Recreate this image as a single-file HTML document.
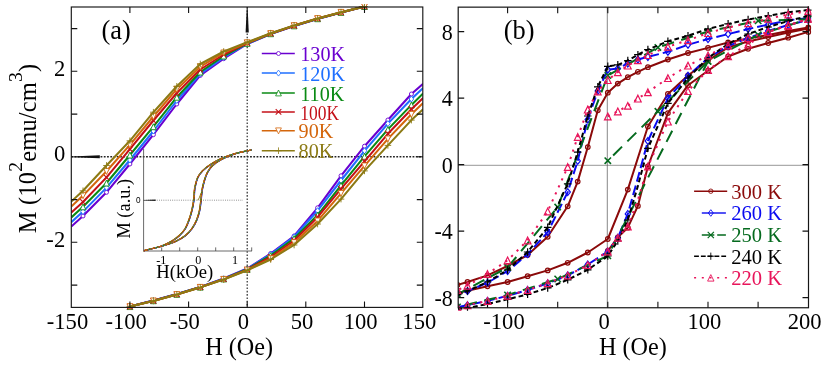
<!DOCTYPE html>
<html><head><meta charset="utf-8"><title>Hysteresis loops</title>
<style>html,body{margin:0;padding:0;background:#fff;}body{width:830px;height:365px;overflow:hidden;}svg{display:block;}text{font-family:"Liberation Serif",serif;fill:#000;}</style>
</head><body>
<svg width="830" height="365" viewBox="0 0 830 365" >
<rect x="0" y="0" width="830" height="365" fill="#fff"/>
<defs>
<filter id="noaa" filterUnits="userSpaceOnUse" x="0" y="0" width="830" height="365" color-interpolation-filters="sRGB"><feOffset dx="0" dy="0"/></filter>
<clipPath id="ca"><rect x="71.3" y="4.0" width="351.5" height="306.4"/></clipPath>
<clipPath id="cb"><rect x="458.2" y="4.15" width="353.3" height="306.55"/></clipPath>
</defs>
<g filter="url(#noaa)">
<g id="panelA">
<path d="M71.3 156.8L422.8 156.8" stroke="#222" stroke-width="1.6" stroke-dasharray="1.8 1.45" fill="none"/>
<path d="M247.2 7.0L247.2 307.4" stroke="#222" stroke-width="1.15" stroke-dasharray="1.6 1.7" fill="none"/>
<path d="M71.3 156.4L99.8 155.3L99.8 158.3L71.3 157.20000000000002Z" fill="#111"/>
<path d="M246.79999999999998 7.0L245.6 32.5L248.79999999999998 32.5L247.6 7.0Z" fill="#111"/>
<path d="M143.6 148.8L143.6 251.0L252.0 251.0" stroke="#444" stroke-width="0.8" fill="none"/>
<path d="M161.7 251.0L161.7 247.4" stroke="#444" stroke-width="0.8"/>
<path d="M179.7 251.0L179.7 247.4" stroke="#444" stroke-width="0.8"/>
<path d="M197.7 251.0L197.7 247.4" stroke="#444" stroke-width="0.8"/>
<path d="M215.7 251.0L215.7 247.4" stroke="#444" stroke-width="0.8"/>
<path d="M233.7 251.0L233.7 247.4" stroke="#444" stroke-width="0.8"/>
<path d="M251.7 251.0L251.7 247.4" stroke="#444" stroke-width="0.8"/>
<path d="M143.6 200.2L243 200.2" stroke="#555" stroke-width="0.7" stroke-dasharray="0.9 1.3" fill="none"/>
<path d="M143.6 199.89999999999998L155.6 199.5L155.6 200.89999999999998L143.6 200.5Z" fill="#222"/>
<path d="M251.9 150.0C249.2 150.6 240.6 152.1 235.6 153.5C230.6 154.9 226.3 156.4 222.1 158.3C217.9 160.2 213.7 162.6 210.5 164.7C207.3 166.8 204.9 168.7 202.8 170.8C200.7 173.0 199.3 174.7 198.0 177.6C196.7 180.5 195.8 184.4 195.1 188.2C194.5 191.9 194.6 196.4 194.1 200.1C193.6 203.8 193.0 207.1 192.2 210.4C191.4 213.7 190.4 216.9 189.3 220.0C188.2 223.1 187.1 226.1 185.5 228.7C183.9 231.3 182.0 233.4 179.7 235.5C177.5 237.6 175.0 239.4 172.0 241.2C169.0 242.9 166.6 244.4 161.9 246.0C157.2 247.6 146.9 249.9 143.9 250.7" fill="none" stroke="#6a00d0" stroke-width="1.1"/>
<path d="M143.9 250.7C146.9 250.0 156.6 247.8 161.9 246.3C167.2 244.8 171.9 243.3 175.8 241.5C179.7 239.7 182.8 237.8 185.5 235.7C188.2 233.6 190.3 231.3 192.2 228.7C194.1 226.1 195.7 223.1 197.0 220.0C198.3 216.9 199.2 213.7 199.9 210.4C200.6 207.1 200.9 203.5 201.3 200.1C201.7 196.7 201.8 193.4 202.4 190.1C203.0 186.8 203.8 183.4 204.7 180.5C205.6 177.6 206.3 175.2 207.6 172.8C208.9 170.4 210.0 168.2 212.4 166.0C214.8 163.8 218.2 161.3 222.1 159.3C226.0 157.3 230.6 155.4 235.6 153.8C240.6 152.2 249.2 150.6 251.9 150.0" fill="none" stroke="#6a00d0" stroke-width="1.1"/>
<path d="M251.8 150.0C249.1 150.6 240.4 152.1 235.5 153.5C230.5 154.9 226.2 156.4 222.0 158.3C217.8 160.2 213.6 162.6 210.4 164.7C207.2 166.8 204.8 168.7 202.7 170.8C200.6 173.0 199.2 174.7 197.9 177.6C196.6 180.5 195.6 184.4 195.0 188.2C194.3 191.9 194.5 196.4 194.0 200.1C193.5 203.8 192.9 207.1 192.1 210.4C191.3 213.7 190.3 216.9 189.2 220.0C188.1 223.1 187.0 226.1 185.4 228.7C183.8 231.3 181.8 233.4 179.6 235.5C177.3 237.6 174.8 239.4 171.9 241.2C168.9 242.9 166.5 244.4 161.8 246.0C157.1 247.6 146.8 249.9 143.8 250.7" fill="none" stroke="#1f6fff" stroke-width="1.1"/>
<path d="M143.8 250.7C146.8 250.0 156.5 247.8 161.8 246.3C167.1 244.8 171.7 243.3 175.7 241.5C179.6 239.7 182.6 237.8 185.4 235.7C188.1 233.6 190.2 231.3 192.1 228.7C194.0 226.1 195.6 223.1 196.9 220.0C198.2 216.9 199.1 213.7 199.8 210.4C200.5 207.1 200.8 203.5 201.2 200.1C201.6 196.7 201.7 193.4 202.3 190.1C202.8 186.8 203.7 183.4 204.6 180.5C205.4 177.6 206.2 175.2 207.5 172.8C208.8 170.4 209.9 168.2 212.3 166.0C214.7 163.8 218.1 161.3 222.0 159.3C225.8 157.3 230.5 155.4 235.5 153.8C240.4 152.2 249.1 150.6 251.8 150.0" fill="none" stroke="#1f6fff" stroke-width="1.1"/>
<path d="M251.7 150.0C248.9 150.6 240.3 152.1 235.4 153.5C230.4 154.9 226.0 156.4 221.9 158.3C217.7 160.2 213.5 162.6 210.3 164.7C207.0 166.8 204.6 168.7 202.6 170.8C200.5 173.0 199.0 174.7 197.8 177.6C196.5 180.5 195.5 184.4 194.9 188.2C194.2 191.9 194.3 196.4 193.9 200.1C193.4 203.8 192.8 207.1 192.0 210.4C191.2 213.7 190.2 216.9 189.1 220.0C187.9 223.1 186.9 226.1 185.3 228.7C183.7 231.3 181.7 233.4 179.5 235.5C177.2 237.6 174.7 239.4 171.8 241.2C168.8 242.9 166.3 244.4 161.7 246.0C157.0 247.6 146.7 249.9 143.7 250.7" fill="none" stroke="#0a8a14" stroke-width="1.1"/>
<path d="M143.7 250.7C146.7 250.0 156.3 247.8 161.7 246.3C167.0 244.8 171.6 243.3 175.6 241.5C179.5 239.7 182.5 237.8 185.3 235.7C188.0 233.6 190.0 231.3 192.0 228.7C193.9 226.1 195.5 223.1 196.8 220.0C198.0 216.9 198.9 213.7 199.7 210.4C200.4 207.1 200.6 203.5 201.1 200.1C201.5 196.7 201.6 193.4 202.2 190.1C202.7 186.8 203.6 183.4 204.5 180.5C205.3 177.6 206.1 175.2 207.4 172.8C208.6 170.4 209.7 168.2 212.2 166.0C214.6 163.8 218.0 161.3 221.9 159.3C225.7 157.3 230.4 155.4 235.4 153.8C240.3 152.2 248.9 150.6 251.7 150.0" fill="none" stroke="#0a8a14" stroke-width="1.1"/>
<path d="M251.5 150.0C248.8 150.6 240.2 152.1 235.2 153.5C230.3 154.9 225.9 156.4 221.7 158.3C217.6 160.2 213.4 162.6 210.1 164.7C206.9 166.8 204.5 168.7 202.4 170.8C200.4 173.0 198.9 174.7 197.6 177.6C196.4 180.5 195.4 184.4 194.7 188.2C194.1 191.9 194.2 196.4 193.7 200.1C193.3 203.8 192.6 207.1 191.8 210.4C191.0 213.7 190.1 216.9 188.9 220.0C187.8 223.1 186.7 226.1 185.1 228.7C183.5 231.3 181.6 233.4 179.3 235.5C177.1 237.6 174.6 239.4 171.6 241.2C168.7 242.9 166.2 244.4 161.5 246.0C156.9 247.6 146.5 249.9 143.5 250.7" fill="none" stroke="#c41018" stroke-width="1.1"/>
<path d="M143.5 250.7C146.5 250.0 156.2 247.8 161.5 246.3C166.9 244.8 171.5 243.3 175.4 241.5C179.4 239.7 182.4 237.8 185.1 235.7C187.9 233.6 189.9 231.3 191.8 228.7C193.8 226.1 195.4 223.1 196.6 220.0C197.9 216.9 198.8 213.7 199.5 210.4C200.3 207.1 200.5 203.5 200.9 200.1C201.4 196.7 201.5 193.4 202.0 190.1C202.6 186.8 203.5 183.4 204.3 180.5C205.2 177.6 206.0 175.2 207.2 172.8C208.5 170.4 209.6 168.2 212.0 166.0C214.5 163.8 217.9 161.3 221.7 159.3C225.6 157.3 230.3 155.4 235.2 153.8C240.2 152.2 248.8 150.6 251.5 150.0" fill="none" stroke="#c41018" stroke-width="1.1"/>
<path d="M251.4 150.0C248.7 150.6 240.1 152.1 235.1 153.5C230.2 154.9 225.8 156.4 221.6 158.3C217.4 160.2 213.2 162.6 210.0 164.7C206.8 166.8 204.4 168.7 202.3 170.8C200.2 173.0 198.8 174.7 197.5 177.6C196.2 180.5 195.3 184.4 194.6 188.2C194.0 191.9 194.1 196.4 193.6 200.1C193.1 203.8 192.5 207.1 191.7 210.4C190.9 213.7 189.9 216.9 188.8 220.0C187.7 223.1 186.6 226.1 185.0 228.7C183.4 231.3 181.5 233.4 179.2 235.5C177.0 237.6 174.5 239.4 171.5 241.2C168.6 242.9 166.1 244.4 161.4 246.0C156.7 247.6 146.4 249.9 143.4 250.7" fill="none" stroke="#d4660c" stroke-width="1.1"/>
<path d="M143.4 250.7C146.4 250.0 156.1 247.8 161.4 246.3C166.7 244.8 171.4 243.3 175.3 241.5C179.3 239.7 182.3 237.8 185.0 235.7C187.8 233.6 189.8 231.3 191.7 228.7C193.6 226.1 195.2 223.1 196.5 220.0C197.8 216.9 198.7 213.7 199.4 210.4C200.1 207.1 200.4 203.5 200.8 200.1C201.2 196.7 201.4 193.4 201.9 190.1C202.5 186.8 203.4 183.4 204.2 180.5C205.1 177.6 205.8 175.2 207.1 172.8C208.4 170.4 209.5 168.2 211.9 166.0C214.3 163.8 217.8 161.3 221.6 159.3C225.5 157.3 230.2 155.4 235.1 153.8C240.1 152.2 248.7 150.6 251.4 150.0" fill="none" stroke="#d4660c" stroke-width="1.1"/>
<path d="M251.3 150.0C248.6 150.6 240.0 152.1 235.0 153.5C230.0 154.9 225.7 156.4 221.5 158.3C217.3 160.2 213.1 162.6 209.9 164.7C206.7 166.8 204.3 168.7 202.2 170.8C200.1 173.0 198.7 174.7 197.4 177.6C196.1 180.5 195.2 184.4 194.5 188.2C193.8 191.9 194.0 196.4 193.5 200.1C193.0 203.8 192.4 207.1 191.6 210.4C190.8 213.7 189.8 216.9 188.7 220.0C187.6 223.1 186.5 226.1 184.9 228.7C183.3 231.3 181.3 233.4 179.1 235.5C176.8 237.6 174.4 239.4 171.4 241.2C168.4 242.9 166.0 244.4 161.3 246.0C156.6 247.6 146.3 249.9 143.3 250.7" fill="none" stroke="#8c7a14" stroke-width="1.1"/>
<path d="M143.3 250.7C146.3 250.0 156.0 247.8 161.3 246.3C166.6 244.8 171.3 243.3 175.2 241.5C179.1 239.7 182.2 237.8 184.9 235.7C187.6 233.6 189.7 231.3 191.6 228.7C193.5 226.1 195.1 223.1 196.4 220.0C197.7 216.9 198.6 213.7 199.3 210.4C200.0 207.1 200.3 203.5 200.7 200.1C201.1 196.7 201.2 193.4 201.8 190.1C202.4 186.8 203.2 183.4 204.1 180.5C205.0 177.6 205.7 175.2 207.0 172.8C208.3 170.4 209.4 168.2 211.8 166.0C214.2 163.8 217.6 161.3 221.5 159.3C225.4 157.3 230.0 155.4 235.0 153.8C240.0 152.2 248.6 150.6 251.3 150.0" fill="none" stroke="#8c7a14" stroke-width="1.1"/>
<path d="M251.6 150.0C248.9 150.6 240.3 152.1 235.3 153.5C230.3 154.9 226.0 156.4 221.8 158.3C217.6 160.2 213.4 162.6 210.2 164.7C207.0 166.8 204.6 168.7 202.5 170.8C200.4 173.0 199.0 174.7 197.7 177.6C196.4 180.5 195.5 184.4 194.8 188.2C194.2 191.9 194.3 196.4 193.8 200.1C193.3 203.8 192.7 207.1 191.9 210.4C191.1 213.7 190.1 216.9 189.0 220.0C187.9 223.1 186.8 226.1 185.2 228.7C183.6 231.3 181.7 233.4 179.4 235.5C177.2 237.6 174.7 239.4 171.7 241.2C168.7 242.9 166.3 244.4 161.6 246.0C156.9 247.6 146.6 249.9 143.6 250.7" fill="none" stroke="#1f6fff" stroke-width="0.9" stroke-dasharray="0.9 6.3" stroke-dashoffset="0.0"/>
<path d="M143.6 250.7C146.6 250.0 156.3 247.8 161.6 246.3C166.9 244.8 171.6 243.3 175.5 241.5C179.4 239.7 182.5 237.8 185.2 235.7C187.9 233.6 190.0 231.3 191.9 228.7C193.8 226.1 195.4 223.1 196.7 220.0C198.0 216.9 198.9 213.7 199.6 210.4C200.3 207.1 200.6 203.5 201.0 200.1C201.4 196.7 201.5 193.4 202.1 190.1C202.7 186.8 203.5 183.4 204.4 180.5C205.3 177.6 206.0 175.2 207.3 172.8C208.6 170.4 209.7 168.2 212.1 166.0C214.5 163.8 217.9 161.3 221.8 159.3C225.7 157.3 230.3 155.4 235.3 153.8C240.3 152.2 248.9 150.6 251.6 150.0" fill="none" stroke="#1f6fff" stroke-width="0.9" stroke-dasharray="0.9 6.3" stroke-dashoffset="0.0"/>
<path d="M251.6 150.0C248.9 150.6 240.3 152.1 235.3 153.5C230.3 154.9 226.0 156.4 221.8 158.3C217.6 160.2 213.4 162.6 210.2 164.7C207.0 166.8 204.6 168.7 202.5 170.8C200.4 173.0 199.0 174.7 197.7 177.6C196.4 180.5 195.5 184.4 194.8 188.2C194.2 191.9 194.3 196.4 193.8 200.1C193.3 203.8 192.7 207.1 191.9 210.4C191.1 213.7 190.1 216.9 189.0 220.0C187.9 223.1 186.8 226.1 185.2 228.7C183.6 231.3 181.7 233.4 179.4 235.5C177.2 237.6 174.7 239.4 171.7 241.2C168.7 242.9 166.3 244.4 161.6 246.0C156.9 247.6 146.6 249.9 143.6 250.7" fill="none" stroke="#0a8a14" stroke-width="0.9" stroke-dasharray="0.9 6.3" stroke-dashoffset="1.8"/>
<path d="M143.6 250.7C146.6 250.0 156.3 247.8 161.6 246.3C166.9 244.8 171.6 243.3 175.5 241.5C179.4 239.7 182.5 237.8 185.2 235.7C187.9 233.6 190.0 231.3 191.9 228.7C193.8 226.1 195.4 223.1 196.7 220.0C198.0 216.9 198.9 213.7 199.6 210.4C200.3 207.1 200.6 203.5 201.0 200.1C201.4 196.7 201.5 193.4 202.1 190.1C202.7 186.8 203.5 183.4 204.4 180.5C205.3 177.6 206.0 175.2 207.3 172.8C208.6 170.4 209.7 168.2 212.1 166.0C214.5 163.8 217.9 161.3 221.8 159.3C225.7 157.3 230.3 155.4 235.3 153.8C240.3 152.2 248.9 150.6 251.6 150.0" fill="none" stroke="#0a8a14" stroke-width="0.9" stroke-dasharray="0.9 6.3" stroke-dashoffset="1.8"/>
<path d="M251.6 150.0C248.9 150.6 240.3 152.1 235.3 153.5C230.3 154.9 226.0 156.4 221.8 158.3C217.6 160.2 213.4 162.6 210.2 164.7C207.0 166.8 204.6 168.7 202.5 170.8C200.4 173.0 199.0 174.7 197.7 177.6C196.4 180.5 195.5 184.4 194.8 188.2C194.2 191.9 194.3 196.4 193.8 200.1C193.3 203.8 192.7 207.1 191.9 210.4C191.1 213.7 190.1 216.9 189.0 220.0C187.9 223.1 186.8 226.1 185.2 228.7C183.6 231.3 181.7 233.4 179.4 235.5C177.2 237.6 174.7 239.4 171.7 241.2C168.7 242.9 166.3 244.4 161.6 246.0C156.9 247.6 146.6 249.9 143.6 250.7" fill="none" stroke="#c41018" stroke-width="0.9" stroke-dasharray="0.9 6.3" stroke-dashoffset="3.6"/>
<path d="M143.6 250.7C146.6 250.0 156.3 247.8 161.6 246.3C166.9 244.8 171.6 243.3 175.5 241.5C179.4 239.7 182.5 237.8 185.2 235.7C187.9 233.6 190.0 231.3 191.9 228.7C193.8 226.1 195.4 223.1 196.7 220.0C198.0 216.9 198.9 213.7 199.6 210.4C200.3 207.1 200.6 203.5 201.0 200.1C201.4 196.7 201.5 193.4 202.1 190.1C202.7 186.8 203.5 183.4 204.4 180.5C205.3 177.6 206.0 175.2 207.3 172.8C208.6 170.4 209.7 168.2 212.1 166.0C214.5 163.8 217.9 161.3 221.8 159.3C225.7 157.3 230.3 155.4 235.3 153.8C240.3 152.2 248.9 150.6 251.6 150.0" fill="none" stroke="#c41018" stroke-width="0.9" stroke-dasharray="0.9 6.3" stroke-dashoffset="3.6"/>
<path d="M251.6 150.0C248.9 150.6 240.3 152.1 235.3 153.5C230.3 154.9 226.0 156.4 221.8 158.3C217.6 160.2 213.4 162.6 210.2 164.7C207.0 166.8 204.6 168.7 202.5 170.8C200.4 173.0 199.0 174.7 197.7 177.6C196.4 180.5 195.5 184.4 194.8 188.2C194.2 191.9 194.3 196.4 193.8 200.1C193.3 203.8 192.7 207.1 191.9 210.4C191.1 213.7 190.1 216.9 189.0 220.0C187.9 223.1 186.8 226.1 185.2 228.7C183.6 231.3 181.7 233.4 179.4 235.5C177.2 237.6 174.7 239.4 171.7 241.2C168.7 242.9 166.3 244.4 161.6 246.0C156.9 247.6 146.6 249.9 143.6 250.7" fill="none" stroke="#d4660c" stroke-width="0.9" stroke-dasharray="0.9 6.3" stroke-dashoffset="5.4"/>
<path d="M143.6 250.7C146.6 250.0 156.3 247.8 161.6 246.3C166.9 244.8 171.6 243.3 175.5 241.5C179.4 239.7 182.5 237.8 185.2 235.7C187.9 233.6 190.0 231.3 191.9 228.7C193.8 226.1 195.4 223.1 196.7 220.0C198.0 216.9 198.9 213.7 199.6 210.4C200.3 207.1 200.6 203.5 201.0 200.1C201.4 196.7 201.5 193.4 202.1 190.1C202.7 186.8 203.5 183.4 204.4 180.5C205.3 177.6 206.0 175.2 207.3 172.8C208.6 170.4 209.7 168.2 212.1 166.0C214.5 163.8 217.9 161.3 221.8 159.3C225.7 157.3 230.3 155.4 235.3 153.8C240.3 152.2 248.9 150.6 251.6 150.0" fill="none" stroke="#d4660c" stroke-width="0.9" stroke-dasharray="0.9 6.3" stroke-dashoffset="5.4"/>
<path d="M197.7 200.2C199.2 198.7 199.89999999999998 196.2 200.89999999999998 193.2" fill="none" stroke="#8c7a14" stroke-width="1"/>
<text x="161.4" y="263.6" font-size="12.2" text-anchor="middle">-1</text>
<text x="198.2" y="263.6" font-size="12.2" text-anchor="middle">0</text>
<text x="235.0" y="263.6" font-size="12.2" text-anchor="middle">1</text>
<text x="156.3" y="278.2" font-size="18.6">H(kOe)</text>
<text transform="translate(130.2 238.6) rotate(-90) scale(1 1.08)" font-size="18.4">M (a.u.)</text>
<text x="138.4" y="203.0" font-size="8.2" text-anchor="middle" style="font-family:'Liberation Sans', sans-serif">0</text>
<g clip-path="url(#ca)">
<path d="M71.3 226.5L83.0 216.0L106.5 192.3L129.9 164.0L153.4 134.7L176.8 104.0L200.3 75.4L223.7 58.7L247.2 44.0L270.7 34.0L294.1 26.0L317.6 18.9L341.0 12.5L364.5 6.5" fill="none" stroke="#6a00d0" stroke-width="2.05" stroke-linejoin="round" />
<path d="M129.9 306.6L153.4 300.5L176.8 294.1L200.3 286.9L223.7 278.5L247.2 268.5L270.7 253.5L294.1 236.0L317.6 207.8L341.0 175.8L364.5 146.2L387.9 120.0L411.4 94.0L423.1 83.8" fill="none" stroke="#6a00d0" stroke-width="2.05" stroke-linejoin="round" />
<circle cx="83.0" cy="216.0" r="2.00" fill="#fff" stroke="#6a00d0" stroke-width="0.9"/>
<circle cx="106.5" cy="192.3" r="2.00" fill="#fff" stroke="#6a00d0" stroke-width="0.9"/>
<circle cx="129.9" cy="164.0" r="2.00" fill="#fff" stroke="#6a00d0" stroke-width="0.9"/>
<circle cx="153.4" cy="134.7" r="2.00" fill="#fff" stroke="#6a00d0" stroke-width="0.9"/>
<circle cx="176.8" cy="104.0" r="2.00" fill="#fff" stroke="#6a00d0" stroke-width="0.9"/>
<circle cx="200.3" cy="75.4" r="2.00" fill="#fff" stroke="#6a00d0" stroke-width="0.9"/>
<circle cx="223.7" cy="58.7" r="2.00" fill="#fff" stroke="#6a00d0" stroke-width="0.9"/>
<circle cx="247.2" cy="44.0" r="2.00" fill="#fff" stroke="#6a00d0" stroke-width="0.9"/>
<circle cx="270.7" cy="34.0" r="2.00" fill="#fff" stroke="#6a00d0" stroke-width="0.9"/>
<circle cx="294.1" cy="26.0" r="2.00" fill="#fff" stroke="#6a00d0" stroke-width="0.9"/>
<circle cx="317.6" cy="18.9" r="2.00" fill="#fff" stroke="#6a00d0" stroke-width="0.9"/>
<circle cx="341.0" cy="12.5" r="2.00" fill="#fff" stroke="#6a00d0" stroke-width="0.9"/>
<circle cx="364.5" cy="6.5" r="2.00" fill="#fff" stroke="#6a00d0" stroke-width="0.9"/>
<circle cx="129.9" cy="306.6" r="2.00" fill="#fff" stroke="#6a00d0" stroke-width="0.9"/>
<circle cx="153.4" cy="300.5" r="2.00" fill="#fff" stroke="#6a00d0" stroke-width="0.9"/>
<circle cx="176.8" cy="294.1" r="2.00" fill="#fff" stroke="#6a00d0" stroke-width="0.9"/>
<circle cx="200.3" cy="286.9" r="2.00" fill="#fff" stroke="#6a00d0" stroke-width="0.9"/>
<circle cx="223.7" cy="278.5" r="2.00" fill="#fff" stroke="#6a00d0" stroke-width="0.9"/>
<circle cx="247.2" cy="268.5" r="2.00" fill="#fff" stroke="#6a00d0" stroke-width="0.9"/>
<circle cx="270.7" cy="253.5" r="2.00" fill="#fff" stroke="#6a00d0" stroke-width="0.9"/>
<circle cx="294.1" cy="236.0" r="2.00" fill="#fff" stroke="#6a00d0" stroke-width="0.9"/>
<circle cx="317.6" cy="207.8" r="2.00" fill="#fff" stroke="#6a00d0" stroke-width="0.9"/>
<circle cx="341.0" cy="175.8" r="2.00" fill="#fff" stroke="#6a00d0" stroke-width="0.9"/>
<circle cx="364.5" cy="146.2" r="2.00" fill="#fff" stroke="#6a00d0" stroke-width="0.9"/>
<circle cx="387.9" cy="120.0" r="2.00" fill="#fff" stroke="#6a00d0" stroke-width="0.9"/>
<circle cx="411.4" cy="94.0" r="2.00" fill="#fff" stroke="#6a00d0" stroke-width="0.9"/>
<path d="M71.3 222.2L83.0 211.6L106.5 187.6L129.9 160.0L153.4 131.0L176.8 100.5L200.3 73.8L223.7 57.4L247.2 43.7L270.7 33.9L294.1 25.9L317.6 18.8L341.0 12.5L364.5 6.5" fill="none" stroke="#1f6fff" stroke-width="2.05" stroke-linejoin="round" />
<path d="M129.9 306.6L153.4 300.6L176.8 294.2L200.3 287.0L223.7 278.7L247.2 269.0L270.7 254.2L294.1 236.8L317.6 210.7L341.0 180.5L364.5 150.8L387.9 123.6L411.4 99.0L423.1 88.0" fill="none" stroke="#1f6fff" stroke-width="2.05" stroke-linejoin="round" />
<path d="M83.0 208.6L85.3 211.6L83.0 214.6L80.7 211.6Z" fill="#fff" stroke="#1f6fff" stroke-width="0.9"/>
<path d="M106.5 184.6L108.8 187.6L106.5 190.6L104.2 187.6Z" fill="#fff" stroke="#1f6fff" stroke-width="0.9"/>
<path d="M129.9 157.0L132.2 160.0L129.9 163.0L127.6 160.0Z" fill="#fff" stroke="#1f6fff" stroke-width="0.9"/>
<path d="M153.4 128.0L155.7 131.0L153.4 134.0L151.1 131.0Z" fill="#fff" stroke="#1f6fff" stroke-width="0.9"/>
<path d="M176.8 97.5L179.1 100.5L176.8 103.5L174.5 100.5Z" fill="#fff" stroke="#1f6fff" stroke-width="0.9"/>
<path d="M200.3 70.8L202.6 73.8L200.3 76.8L198.0 73.8Z" fill="#fff" stroke="#1f6fff" stroke-width="0.9"/>
<path d="M223.7 54.4L226.0 57.4L223.7 60.4L221.4 57.4Z" fill="#fff" stroke="#1f6fff" stroke-width="0.9"/>
<path d="M247.2 40.7L249.5 43.7L247.2 46.7L244.9 43.7Z" fill="#fff" stroke="#1f6fff" stroke-width="0.9"/>
<path d="M270.7 30.9L273.0 33.9L270.7 36.9L268.4 33.9Z" fill="#fff" stroke="#1f6fff" stroke-width="0.9"/>
<path d="M294.1 22.9L296.4 25.9L294.1 28.9L291.8 25.9Z" fill="#fff" stroke="#1f6fff" stroke-width="0.9"/>
<path d="M317.6 15.8L319.9 18.8L317.6 21.8L315.3 18.8Z" fill="#fff" stroke="#1f6fff" stroke-width="0.9"/>
<path d="M341.0 9.5L343.3 12.5L341.0 15.5L338.7 12.5Z" fill="#fff" stroke="#1f6fff" stroke-width="0.9"/>
<path d="M364.5 3.5L366.8 6.5L364.5 9.5L362.2 6.5Z" fill="#fff" stroke="#1f6fff" stroke-width="0.9"/>
<path d="M129.9 303.6L132.2 306.6L129.9 309.6L127.6 306.6Z" fill="#fff" stroke="#1f6fff" stroke-width="0.9"/>
<path d="M153.4 297.6L155.7 300.6L153.4 303.6L151.1 300.6Z" fill="#fff" stroke="#1f6fff" stroke-width="0.9"/>
<path d="M176.8 291.2L179.1 294.2L176.8 297.2L174.5 294.2Z" fill="#fff" stroke="#1f6fff" stroke-width="0.9"/>
<path d="M200.3 284.0L202.6 287.0L200.3 290.0L198.0 287.0Z" fill="#fff" stroke="#1f6fff" stroke-width="0.9"/>
<path d="M223.7 275.7L226.0 278.7L223.7 281.7L221.4 278.7Z" fill="#fff" stroke="#1f6fff" stroke-width="0.9"/>
<path d="M247.2 266.0L249.5 269.0L247.2 272.0L244.9 269.0Z" fill="#fff" stroke="#1f6fff" stroke-width="0.9"/>
<path d="M270.7 251.2L273.0 254.2L270.7 257.2L268.4 254.2Z" fill="#fff" stroke="#1f6fff" stroke-width="0.9"/>
<path d="M294.1 233.8L296.4 236.8L294.1 239.8L291.8 236.8Z" fill="#fff" stroke="#1f6fff" stroke-width="0.9"/>
<path d="M317.6 207.7L319.9 210.7L317.6 213.7L315.3 210.7Z" fill="#fff" stroke="#1f6fff" stroke-width="0.9"/>
<path d="M341.0 177.5L343.3 180.5L341.0 183.5L338.7 180.5Z" fill="#fff" stroke="#1f6fff" stroke-width="0.9"/>
<path d="M364.5 147.8L366.8 150.8L364.5 153.8L362.2 150.8Z" fill="#fff" stroke="#1f6fff" stroke-width="0.9"/>
<path d="M387.9 120.6L390.2 123.6L387.9 126.6L385.6 123.6Z" fill="#fff" stroke="#1f6fff" stroke-width="0.9"/>
<path d="M411.4 96.0L413.7 99.0L411.4 102.0L409.1 99.0Z" fill="#fff" stroke="#1f6fff" stroke-width="0.9"/>
<path d="M71.3 217.4L83.0 206.8L106.5 183.0L129.9 155.0L153.4 126.7L176.8 97.2L200.3 72.0L223.7 56.0L247.2 43.3L270.7 33.7L294.1 25.8L317.6 18.7L341.0 12.4L364.5 6.5" fill="none" stroke="#0a8a14" stroke-width="2.05" stroke-linejoin="round" />
<path d="M129.9 306.6L153.4 300.7L176.8 294.3L200.3 287.1L223.7 278.9L247.2 269.3L270.7 255.5L294.1 238.5L317.6 215.1L341.0 185.3L364.5 156.3L387.9 129.4L411.4 104.9L423.1 93.5" fill="none" stroke="#0a8a14" stroke-width="2.05" stroke-linejoin="round" />
<path d="M83.0 203.9L85.9 209.8L80.1 209.8Z" fill="#fff" stroke="#0a8a14" stroke-width="0.9"/>
<path d="M106.5 180.1L109.4 186.0L103.6 186.0Z" fill="#fff" stroke="#0a8a14" stroke-width="0.9"/>
<path d="M129.9 152.1L132.8 158.0L127.0 158.0Z" fill="#fff" stroke="#0a8a14" stroke-width="0.9"/>
<path d="M153.4 123.8L156.3 129.7L150.5 129.7Z" fill="#fff" stroke="#0a8a14" stroke-width="0.9"/>
<path d="M176.8 94.3L179.7 100.2L173.9 100.2Z" fill="#fff" stroke="#0a8a14" stroke-width="0.9"/>
<path d="M200.3 69.1L203.2 75.0L197.4 75.0Z" fill="#fff" stroke="#0a8a14" stroke-width="0.9"/>
<path d="M223.7 53.1L226.6 59.0L220.8 59.0Z" fill="#fff" stroke="#0a8a14" stroke-width="0.9"/>
<path d="M247.2 40.4L250.1 46.3L244.3 46.3Z" fill="#fff" stroke="#0a8a14" stroke-width="0.9"/>
<path d="M270.7 30.8L273.6 36.7L267.8 36.7Z" fill="#fff" stroke="#0a8a14" stroke-width="0.9"/>
<path d="M294.1 22.9L297.0 28.8L291.2 28.8Z" fill="#fff" stroke="#0a8a14" stroke-width="0.9"/>
<path d="M317.6 15.8L320.5 21.7L314.7 21.7Z" fill="#fff" stroke="#0a8a14" stroke-width="0.9"/>
<path d="M341.0 9.5L343.9 15.4L338.1 15.4Z" fill="#fff" stroke="#0a8a14" stroke-width="0.9"/>
<path d="M364.5 3.6L367.4 9.5L361.6 9.5Z" fill="#fff" stroke="#0a8a14" stroke-width="0.9"/>
<path d="M129.9 303.7L132.8 309.6L127.0 309.6Z" fill="#fff" stroke="#0a8a14" stroke-width="0.9"/>
<path d="M153.4 297.8L156.3 303.7L150.5 303.7Z" fill="#fff" stroke="#0a8a14" stroke-width="0.9"/>
<path d="M176.8 291.4L179.7 297.3L173.9 297.3Z" fill="#fff" stroke="#0a8a14" stroke-width="0.9"/>
<path d="M200.3 284.2L203.2 290.1L197.4 290.1Z" fill="#fff" stroke="#0a8a14" stroke-width="0.9"/>
<path d="M223.7 276.0L226.6 281.9L220.8 281.9Z" fill="#fff" stroke="#0a8a14" stroke-width="0.9"/>
<path d="M247.2 266.4L250.1 272.3L244.3 272.3Z" fill="#fff" stroke="#0a8a14" stroke-width="0.9"/>
<path d="M270.7 252.6L273.6 258.5L267.8 258.5Z" fill="#fff" stroke="#0a8a14" stroke-width="0.9"/>
<path d="M294.1 235.6L297.0 241.5L291.2 241.5Z" fill="#fff" stroke="#0a8a14" stroke-width="0.9"/>
<path d="M317.6 212.2L320.5 218.1L314.7 218.1Z" fill="#fff" stroke="#0a8a14" stroke-width="0.9"/>
<path d="M341.0 182.4L343.9 188.3L338.1 188.3Z" fill="#fff" stroke="#0a8a14" stroke-width="0.9"/>
<path d="M364.5 153.4L367.4 159.3L361.6 159.3Z" fill="#fff" stroke="#0a8a14" stroke-width="0.9"/>
<path d="M387.9 126.5L390.8 132.4L385.0 132.4Z" fill="#fff" stroke="#0a8a14" stroke-width="0.9"/>
<path d="M411.4 102.0L414.3 107.9L408.5 107.9Z" fill="#fff" stroke="#0a8a14" stroke-width="0.9"/>
<path d="M71.3 212.6L83.0 202.0L106.5 177.4L129.9 149.2L153.4 120.5L176.8 93.0L200.3 69.5L223.7 54.5L247.2 43.0L270.7 33.6L294.1 25.7L317.6 18.6L341.0 12.4L364.5 6.5" fill="none" stroke="#c41018" stroke-width="2.05" stroke-linejoin="round" />
<path d="M129.9 306.6L153.4 300.8L176.8 294.4L200.3 287.2L223.7 279.1L247.2 269.6L270.7 257.0L294.1 240.5L317.6 217.2L341.0 188.9L364.5 161.4L387.9 133.8L411.4 109.2L423.1 98.0" fill="none" stroke="#c41018" stroke-width="2.05" stroke-linejoin="round" />
<path d="M80.2 199.2L85.8 204.8M80.2 204.8L85.8 199.2" fill="none" stroke="#c41018" stroke-width="1.17"/>
<path d="M103.7 174.6L109.3 180.2M103.7 180.2L109.3 174.6" fill="none" stroke="#c41018" stroke-width="1.17"/>
<path d="M127.1 146.4L132.7 152.0M127.1 152.0L132.7 146.4" fill="none" stroke="#c41018" stroke-width="1.17"/>
<path d="M150.6 117.7L156.2 123.3M150.6 123.3L156.2 117.7" fill="none" stroke="#c41018" stroke-width="1.17"/>
<path d="M174.0 90.2L179.6 95.8M174.0 95.8L179.6 90.2" fill="none" stroke="#c41018" stroke-width="1.17"/>
<path d="M197.5 66.7L203.1 72.3M197.5 72.3L203.1 66.7" fill="none" stroke="#c41018" stroke-width="1.17"/>
<path d="M220.9 51.7L226.5 57.3M220.9 57.3L226.5 51.7" fill="none" stroke="#c41018" stroke-width="1.17"/>
<path d="M244.4 40.2L250.0 45.8M244.4 45.8L250.0 40.2" fill="none" stroke="#c41018" stroke-width="1.17"/>
<path d="M267.9 30.8L273.5 36.4M267.9 36.4L273.5 30.8" fill="none" stroke="#c41018" stroke-width="1.17"/>
<path d="M291.3 22.9L296.9 28.5M291.3 28.5L296.9 22.9" fill="none" stroke="#c41018" stroke-width="1.17"/>
<path d="M314.8 15.8L320.4 21.4M314.8 21.4L320.4 15.8" fill="none" stroke="#c41018" stroke-width="1.17"/>
<path d="M338.2 9.6L343.8 15.2M338.2 15.2L343.8 9.6" fill="none" stroke="#c41018" stroke-width="1.17"/>
<path d="M361.7 3.7L367.3 9.3M361.7 9.3L367.3 3.7" fill="none" stroke="#c41018" stroke-width="1.17"/>
<path d="M127.1 303.8L132.7 309.4M127.1 309.4L132.7 303.8" fill="none" stroke="#c41018" stroke-width="1.17"/>
<path d="M150.6 298.0L156.2 303.6M150.6 303.6L156.2 298.0" fill="none" stroke="#c41018" stroke-width="1.17"/>
<path d="M174.0 291.6L179.6 297.2M174.0 297.2L179.6 291.6" fill="none" stroke="#c41018" stroke-width="1.17"/>
<path d="M197.5 284.4L203.1 290.0M197.5 290.0L203.1 284.4" fill="none" stroke="#c41018" stroke-width="1.17"/>
<path d="M220.9 276.3L226.5 281.9M220.9 281.9L226.5 276.3" fill="none" stroke="#c41018" stroke-width="1.17"/>
<path d="M244.4 266.8L250.0 272.4M244.4 272.4L250.0 266.8" fill="none" stroke="#c41018" stroke-width="1.17"/>
<path d="M267.9 254.2L273.5 259.8M267.9 259.8L273.5 254.2" fill="none" stroke="#c41018" stroke-width="1.17"/>
<path d="M291.3 237.7L296.9 243.3M291.3 243.3L296.9 237.7" fill="none" stroke="#c41018" stroke-width="1.17"/>
<path d="M314.8 214.4L320.4 220.0M314.8 220.0L320.4 214.4" fill="none" stroke="#c41018" stroke-width="1.17"/>
<path d="M338.2 186.1L343.8 191.7M338.2 191.7L343.8 186.1" fill="none" stroke="#c41018" stroke-width="1.17"/>
<path d="M361.7 158.6L367.3 164.2M361.7 164.2L367.3 158.6" fill="none" stroke="#c41018" stroke-width="1.17"/>
<path d="M385.1 131.0L390.7 136.6M385.1 136.6L390.7 131.0" fill="none" stroke="#c41018" stroke-width="1.17"/>
<path d="M408.6 106.4L414.2 112.0M408.6 112.0L414.2 106.4" fill="none" stroke="#c41018" stroke-width="1.17"/>
<path d="M71.3 206.5L83.0 195.6L106.5 171.3L129.9 144.9L153.4 116.5L176.8 89.2L200.3 66.7L223.7 52.9L247.2 42.7L270.7 33.5L294.1 25.6L317.6 18.5L341.0 12.3L364.5 6.5" fill="none" stroke="#d4660c" stroke-width="2.05" stroke-linejoin="round" />
<path d="M129.9 306.6L153.4 300.9L176.8 294.5L200.3 287.3L223.7 279.3L247.2 270.0L270.7 258.6L294.1 242.6L317.6 220.9L341.0 193.3L364.5 165.8L387.9 138.9L411.4 114.3L423.1 103.0" fill="none" stroke="#d4660c" stroke-width="2.05" stroke-linejoin="round" />
<path d="M83.0 198.7L85.9 192.7L80.1 192.7Z" fill="#fff" stroke="#d4660c" stroke-width="0.9"/>
<path d="M106.5 174.4L109.4 168.4L103.6 168.4Z" fill="#fff" stroke="#d4660c" stroke-width="0.9"/>
<path d="M129.9 148.0L132.8 142.0L127.0 142.0Z" fill="#fff" stroke="#d4660c" stroke-width="0.9"/>
<path d="M153.4 119.6L156.3 113.6L150.5 113.6Z" fill="#fff" stroke="#d4660c" stroke-width="0.9"/>
<path d="M176.8 92.3L179.7 86.3L173.9 86.3Z" fill="#fff" stroke="#d4660c" stroke-width="0.9"/>
<path d="M200.3 69.8L203.2 63.8L197.4 63.8Z" fill="#fff" stroke="#d4660c" stroke-width="0.9"/>
<path d="M223.7 56.0L226.6 50.0L220.8 50.0Z" fill="#fff" stroke="#d4660c" stroke-width="0.9"/>
<path d="M247.2 45.8L250.1 39.8L244.3 39.8Z" fill="#fff" stroke="#d4660c" stroke-width="0.9"/>
<path d="M270.7 36.6L273.6 30.6L267.8 30.6Z" fill="#fff" stroke="#d4660c" stroke-width="0.9"/>
<path d="M294.1 28.7L297.0 22.7L291.2 22.7Z" fill="#fff" stroke="#d4660c" stroke-width="0.9"/>
<path d="M317.6 21.6L320.5 15.6L314.7 15.6Z" fill="#fff" stroke="#d4660c" stroke-width="0.9"/>
<path d="M341.0 15.4L343.9 9.4L338.1 9.4Z" fill="#fff" stroke="#d4660c" stroke-width="0.9"/>
<path d="M364.5 9.6L367.4 3.6L361.6 3.6Z" fill="#fff" stroke="#d4660c" stroke-width="0.9"/>
<path d="M129.9 309.7L132.8 303.7L127.0 303.7Z" fill="#fff" stroke="#d4660c" stroke-width="0.9"/>
<path d="M153.4 304.0L156.3 298.0L150.5 298.0Z" fill="#fff" stroke="#d4660c" stroke-width="0.9"/>
<path d="M176.8 297.6L179.7 291.6L173.9 291.6Z" fill="#fff" stroke="#d4660c" stroke-width="0.9"/>
<path d="M200.3 290.4L203.2 284.4L197.4 284.4Z" fill="#fff" stroke="#d4660c" stroke-width="0.9"/>
<path d="M223.7 282.4L226.6 276.4L220.8 276.4Z" fill="#fff" stroke="#d4660c" stroke-width="0.9"/>
<path d="M247.2 273.1L250.1 267.1L244.3 267.1Z" fill="#fff" stroke="#d4660c" stroke-width="0.9"/>
<path d="M270.7 261.7L273.6 255.7L267.8 255.7Z" fill="#fff" stroke="#d4660c" stroke-width="0.9"/>
<path d="M294.1 245.7L297.0 239.7L291.2 239.7Z" fill="#fff" stroke="#d4660c" stroke-width="0.9"/>
<path d="M317.6 224.0L320.5 218.0L314.7 218.0Z" fill="#fff" stroke="#d4660c" stroke-width="0.9"/>
<path d="M341.0 196.4L343.9 190.4L338.1 190.4Z" fill="#fff" stroke="#d4660c" stroke-width="0.9"/>
<path d="M364.5 168.9L367.4 162.9L361.6 162.9Z" fill="#fff" stroke="#d4660c" stroke-width="0.9"/>
<path d="M387.9 142.0L390.8 136.0L385.0 136.0Z" fill="#fff" stroke="#d4660c" stroke-width="0.9"/>
<path d="M411.4 117.4L414.3 111.4L408.5 111.4Z" fill="#fff" stroke="#d4660c" stroke-width="0.9"/>
<path d="M71.3 201.6L83.0 190.8L106.5 165.5L129.9 140.8L153.4 112.2L176.8 86.3L200.3 64.0L223.7 51.5L247.2 42.3L270.7 33.2L294.1 25.4L317.6 18.4L341.0 12.2L364.5 6.5" fill="none" stroke="#8c7a14" stroke-width="2.05" stroke-linejoin="round" />
<path d="M129.9 306.6L153.4 301.0L176.8 294.6L200.3 287.4L223.7 279.5L247.2 270.3L270.7 259.5L294.1 245.0L317.6 224.0L341.0 199.1L364.5 170.9L387.9 145.4L411.4 120.1L423.1 109.2" fill="none" stroke="#8c7a14" stroke-width="2.05" stroke-linejoin="round" />
<path d="M79.7 190.8L86.3 190.8M83.0 187.5L83.0 194.1" fill="none" stroke="#8c7a14" stroke-width="0.9"/>
<path d="M103.2 165.5L109.8 165.5M106.5 162.2L106.5 168.8" fill="none" stroke="#8c7a14" stroke-width="0.9"/>
<path d="M126.6 140.8L133.2 140.8M129.9 137.5L129.9 144.1" fill="none" stroke="#8c7a14" stroke-width="0.9"/>
<path d="M150.1 112.2L156.7 112.2M153.4 108.9L153.4 115.5" fill="none" stroke="#8c7a14" stroke-width="0.9"/>
<path d="M173.5 86.3L180.1 86.3M176.8 83.0L176.8 89.6" fill="none" stroke="#8c7a14" stroke-width="0.9"/>
<path d="M197.0 64.0L203.6 64.0M200.3 60.7L200.3 67.3" fill="none" stroke="#8c7a14" stroke-width="0.9"/>
<path d="M220.4 51.5L227.0 51.5M223.7 48.2L223.7 54.8" fill="none" stroke="#8c7a14" stroke-width="0.9"/>
<path d="M243.9 42.3L250.5 42.3M247.2 39.0L247.2 45.6" fill="none" stroke="#8c7a14" stroke-width="0.9"/>
<path d="M267.4 33.2L274.0 33.2M270.7 29.9L270.7 36.5" fill="none" stroke="#8c7a14" stroke-width="0.9"/>
<path d="M290.8 25.4L297.4 25.4M294.1 22.1L294.1 28.7" fill="none" stroke="#8c7a14" stroke-width="0.9"/>
<path d="M314.3 18.4L320.9 18.4M317.6 15.1L317.6 21.7" fill="none" stroke="#8c7a14" stroke-width="0.9"/>
<path d="M337.7 12.2L344.3 12.2M341.0 8.9L341.0 15.5" fill="none" stroke="#8c7a14" stroke-width="0.9"/>
<path d="M361.2 6.5L367.8 6.5M364.5 3.2L364.5 9.8" fill="none" stroke="#8c7a14" stroke-width="0.9"/>
<path d="M126.6 306.6L133.2 306.6M129.9 303.3L129.9 309.9" fill="none" stroke="#8c7a14" stroke-width="0.9"/>
<path d="M150.1 301.0L156.7 301.0M153.4 297.7L153.4 304.3" fill="none" stroke="#8c7a14" stroke-width="0.9"/>
<path d="M173.5 294.6L180.1 294.6M176.8 291.3L176.8 297.9" fill="none" stroke="#8c7a14" stroke-width="0.9"/>
<path d="M197.0 287.4L203.6 287.4M200.3 284.1L200.3 290.7" fill="none" stroke="#8c7a14" stroke-width="0.9"/>
<path d="M220.4 279.5L227.0 279.5M223.7 276.2L223.7 282.8" fill="none" stroke="#8c7a14" stroke-width="0.9"/>
<path d="M243.9 270.3L250.5 270.3M247.2 267.0L247.2 273.6" fill="none" stroke="#8c7a14" stroke-width="0.9"/>
<path d="M267.4 259.5L274.0 259.5M270.7 256.2L270.7 262.8" fill="none" stroke="#8c7a14" stroke-width="0.9"/>
<path d="M290.8 245.0L297.4 245.0M294.1 241.7L294.1 248.3" fill="none" stroke="#8c7a14" stroke-width="0.9"/>
<path d="M314.3 224.0L320.9 224.0M317.6 220.7L317.6 227.3" fill="none" stroke="#8c7a14" stroke-width="0.9"/>
<path d="M337.7 199.1L344.3 199.1M341.0 195.8L341.0 202.4" fill="none" stroke="#8c7a14" stroke-width="0.9"/>
<path d="M361.2 170.9L367.8 170.9M364.5 167.6L364.5 174.2" fill="none" stroke="#8c7a14" stroke-width="0.9"/>
<path d="M384.6 145.4L391.2 145.4M387.9 142.1L387.9 148.7" fill="none" stroke="#8c7a14" stroke-width="0.9"/>
<path d="M408.1 120.1L414.7 120.1M411.4 116.8L411.4 123.4" fill="none" stroke="#8c7a14" stroke-width="0.9"/>
</g>
<rect x="71.3" y="7.0" width="351.5" height="300.4" fill="none" stroke="#161616" stroke-width="1.15"/>
<path d="M129.9 7.0L129.9 13.0M129.9 307.4L129.9 301.4" stroke="#111" stroke-width="1.1"/>
<path d="M188.6 7.0L188.6 13.0M188.6 307.4L188.6 301.4" stroke="#111" stroke-width="1.1"/>
<path d="M305.8 7.0L305.8 13.0M305.8 307.4L305.8 301.4" stroke="#111" stroke-width="1.1"/>
<path d="M364.5 7.0L364.5 13.0M364.5 307.4L364.5 301.4" stroke="#111" stroke-width="1.1"/>
<path d="M247.2 307.4L247.2 301.4" stroke="#111" stroke-width="1.1"/>
<path d="M71.3 285.1L77.3 285.1M422.8 285.1L416.8 285.1" stroke="#111" stroke-width="1.1"/>
<path d="M71.3 242.3L77.3 242.3M422.8 242.3L416.8 242.3" stroke="#111" stroke-width="1.1"/>
<path d="M71.3 199.6L77.3 199.6M422.8 199.6L416.8 199.6" stroke="#111" stroke-width="1.1"/>
<path d="M71.3 114.1L77.3 114.1M422.8 114.1L416.8 114.1" stroke="#111" stroke-width="1.1"/>
<path d="M71.3 71.3L77.3 71.3M422.8 71.3L416.8 71.3" stroke="#111" stroke-width="1.1"/>
<path d="M71.3 28.6L77.3 28.6M422.8 28.6L416.8 28.6" stroke="#111" stroke-width="1.1"/>
<path d="M422.8 156.8L416.8 156.8" stroke="#111" stroke-width="1.1"/>
<text transform="translate(67.5 328.5) scale(1 1.045)" font-size="22.6" text-anchor="middle">-150</text>
<text transform="translate(126.1 328.5) scale(1 1.045)" font-size="22.6" text-anchor="middle">-100</text>
<text transform="translate(184.8 328.5) scale(1 1.045)" font-size="22.6" text-anchor="middle">-50</text>
<text transform="translate(243.4 328.5) scale(1 1.045)" font-size="22.6" text-anchor="middle">0</text>
<text transform="translate(302.0 328.5) scale(1 1.045)" font-size="22.6" text-anchor="middle">50</text>
<text transform="translate(360.7 328.5) scale(1 1.045)" font-size="22.6" text-anchor="middle">100</text>
<text transform="translate(419.3 328.5) scale(1 1.045)" font-size="22.6" text-anchor="middle">150</text>
<text transform="translate(65.2 75.6) scale(1 1.045)" font-size="22.6" text-anchor="end">2</text>
<text transform="translate(65.2 161.1) scale(1 1.045)" font-size="22.6" text-anchor="end">0</text>
<text transform="translate(65.2 246.6) scale(1 1.045)" font-size="22.6" text-anchor="end">-2</text>
<text x="239.2" y="355" font-size="24.2" text-anchor="middle">H (Oe)</text>
<text x="101.4" y="38.6" font-size="26.4">(a)</text>
<text transform="translate(36.4 233.2) rotate(-90)" font-size="24.4" textLength="169.4" lengthAdjust="spacing">M (10<tspan dy="-14" font-size="19.6">2</tspan><tspan dy="14">emu/cm</tspan><tspan dy="-14" font-size="19.6">3</tspan><tspan dy="14">)</tspan></text>
<path d="M261.8 53.5L294.8 53.5" stroke="#6a00d0" stroke-width="1.5"/>
<circle cx="278.5" cy="53.5" r="2.00" fill="#fff" stroke="#6a00d0" stroke-width="0.8"/>
<text transform="translate(300.2 61.1) scale(1 1.035)" font-size="20.2" style="fill:#6a00d0">130K</text>
<path d="M261.8 73.1L294.8 73.1" stroke="#1f6fff" stroke-width="1.5"/>
<path d="M278.5 70.1L280.8 73.1L278.5 76.1L276.2 73.1Z" fill="#fff" stroke="#1f6fff" stroke-width="0.8"/>
<text transform="translate(300.2 80.7) scale(1 1.035)" font-size="20.2" style="fill:#1f6fff">120K</text>
<path d="M261.8 92.9L294.8 92.9" stroke="#0a8a14" stroke-width="1.5"/>
<path d="M278.5 90.0L281.4 95.9L275.6 95.9Z" fill="#fff" stroke="#0a8a14" stroke-width="0.8"/>
<text transform="translate(300.2 100.5) scale(1 1.035)" font-size="20.2" style="fill:#0a8a14">110K</text>
<path d="M261.8 111.9L294.8 111.9" stroke="#c41018" stroke-width="1.5"/>
<path d="M275.7 109.1L281.3 114.7M275.7 114.7L281.3 109.1" fill="none" stroke="#c41018" stroke-width="1.04"/>
<text transform="translate(300.2 119.5) scale(1 1.035)" font-size="20.2" style="fill:#c41018" textLength="38.8" lengthAdjust="spacingAndGlyphs">100K</text>
<path d="M261.8 130.8L294.8 130.8" stroke="#d4660c" stroke-width="1.5"/>
<path d="M278.5 133.9L281.4 127.9L275.6 127.9Z" fill="#fff" stroke="#d4660c" stroke-width="0.8"/>
<text transform="translate(298.6 138.4) scale(1 1.035)" font-size="20.2" style="fill:#d4660c">90K</text>
<path d="M261.8 150.7L294.8 150.7" stroke="#8c7a14" stroke-width="1.5"/>
<path d="M275.2 150.7L281.8 150.7M278.5 147.4L278.5 154.0" fill="none" stroke="#8c7a14" stroke-width="0.8"/>
<text transform="translate(298.6 158.3) scale(1 1.035)" font-size="20.2" style="fill:#8c7a14">80K</text>
</g>
<g id="panelB">
<path d="M458.2 165.3L808.5 165.3" stroke="#6a6a6a" stroke-width="0.7" fill="none"/>
<path d="M607.3 7.15L607.3 307.7" stroke="#555" stroke-width="0.7" fill="none"/>
<g clip-path="url(#cb)">
<path d="M808.3 27.5L788.2 31.0L768.2 35.0L748.1 38.5L728.1 42.5L708.0 47.9L688.0 53.0L667.9 59.5L647.9 67.2L637.9 71.8L627.8 77.2L617.8 83.6L607.8 92.7L597.8 110.3L587.8 147.1L577.7 181.6L567.7 206.3L547.7 236.8L527.6 255.0L507.6 266.0L487.5 275.4L467.5 282.0L457.5 284.9" fill="none" stroke="#8b0a0a" stroke-width="2.0" stroke-linejoin="round" />
<path d="M457.5 292.9L467.5 290.7L487.5 286.3L507.6 282.0L527.6 276.2L547.7 270.4L567.7 262.8L587.8 252.5L607.8 239.0L627.8 189.6L647.9 126.5L667.9 93.9L688.0 75.5L708.0 60.5L728.1 47.4L748.1 41.5L768.2 37.0L788.2 32.5L808.3 28.5" fill="none" stroke="#8b0a0a" stroke-width="2.0" stroke-linejoin="round" />
<path d="M607.8 251.0L617.8 237.4L627.8 227.7L637.9 205.9L647.9 166.5L667.9 113.1L688.0 85.2L708.0 70.7L728.1 56.5L748.1 48.8L768.2 43.0L788.2 37.7L808.3 31.9" fill="none" stroke="#8b0a0a" stroke-width="2.0" stroke-linejoin="round" />
<circle cx="808.3" cy="27.5" r="2.30" fill="none" stroke="#8b0a0a" stroke-width="1.2"/>
<circle cx="788.2" cy="31.0" r="2.30" fill="none" stroke="#8b0a0a" stroke-width="1.2"/>
<circle cx="768.2" cy="35.0" r="2.30" fill="none" stroke="#8b0a0a" stroke-width="1.2"/>
<circle cx="748.1" cy="38.5" r="2.30" fill="none" stroke="#8b0a0a" stroke-width="1.2"/>
<circle cx="728.1" cy="42.5" r="2.30" fill="none" stroke="#8b0a0a" stroke-width="1.2"/>
<circle cx="708.0" cy="47.9" r="2.30" fill="none" stroke="#8b0a0a" stroke-width="1.2"/>
<circle cx="688.0" cy="53.0" r="2.30" fill="none" stroke="#8b0a0a" stroke-width="1.2"/>
<circle cx="667.9" cy="59.5" r="2.30" fill="none" stroke="#8b0a0a" stroke-width="1.2"/>
<circle cx="647.9" cy="67.2" r="2.30" fill="none" stroke="#8b0a0a" stroke-width="1.2"/>
<circle cx="637.9" cy="71.8" r="2.30" fill="none" stroke="#8b0a0a" stroke-width="1.2"/>
<circle cx="627.8" cy="77.2" r="2.30" fill="none" stroke="#8b0a0a" stroke-width="1.2"/>
<circle cx="617.8" cy="83.6" r="2.30" fill="none" stroke="#8b0a0a" stroke-width="1.2"/>
<circle cx="607.8" cy="92.7" r="2.30" fill="none" stroke="#8b0a0a" stroke-width="1.2"/>
<circle cx="597.8" cy="110.3" r="2.30" fill="none" stroke="#8b0a0a" stroke-width="1.2"/>
<circle cx="587.8" cy="147.1" r="2.30" fill="none" stroke="#8b0a0a" stroke-width="1.2"/>
<circle cx="577.7" cy="181.6" r="2.30" fill="none" stroke="#8b0a0a" stroke-width="1.2"/>
<circle cx="567.7" cy="206.3" r="2.30" fill="none" stroke="#8b0a0a" stroke-width="1.2"/>
<circle cx="547.7" cy="236.8" r="2.30" fill="none" stroke="#8b0a0a" stroke-width="1.2"/>
<circle cx="527.6" cy="255.0" r="2.30" fill="none" stroke="#8b0a0a" stroke-width="1.2"/>
<circle cx="507.6" cy="266.0" r="2.30" fill="none" stroke="#8b0a0a" stroke-width="1.2"/>
<circle cx="487.5" cy="275.4" r="2.30" fill="none" stroke="#8b0a0a" stroke-width="1.2"/>
<circle cx="467.5" cy="282.0" r="2.30" fill="none" stroke="#8b0a0a" stroke-width="1.2"/>
<circle cx="457.5" cy="284.9" r="2.30" fill="none" stroke="#8b0a0a" stroke-width="1.2"/>
<circle cx="457.5" cy="292.9" r="2.30" fill="none" stroke="#8b0a0a" stroke-width="1.2"/>
<circle cx="467.5" cy="290.7" r="2.30" fill="none" stroke="#8b0a0a" stroke-width="1.2"/>
<circle cx="487.5" cy="286.3" r="2.30" fill="none" stroke="#8b0a0a" stroke-width="1.2"/>
<circle cx="507.6" cy="282.0" r="2.30" fill="none" stroke="#8b0a0a" stroke-width="1.2"/>
<circle cx="527.6" cy="276.2" r="2.30" fill="none" stroke="#8b0a0a" stroke-width="1.2"/>
<circle cx="547.7" cy="270.4" r="2.30" fill="none" stroke="#8b0a0a" stroke-width="1.2"/>
<circle cx="567.7" cy="262.8" r="2.30" fill="none" stroke="#8b0a0a" stroke-width="1.2"/>
<circle cx="587.8" cy="252.5" r="2.30" fill="none" stroke="#8b0a0a" stroke-width="1.2"/>
<circle cx="607.8" cy="239.0" r="2.30" fill="none" stroke="#8b0a0a" stroke-width="1.2"/>
<circle cx="627.8" cy="189.6" r="2.30" fill="none" stroke="#8b0a0a" stroke-width="1.2"/>
<circle cx="647.9" cy="126.5" r="2.30" fill="none" stroke="#8b0a0a" stroke-width="1.2"/>
<circle cx="667.9" cy="93.9" r="2.30" fill="none" stroke="#8b0a0a" stroke-width="1.2"/>
<circle cx="688.0" cy="75.5" r="2.30" fill="none" stroke="#8b0a0a" stroke-width="1.2"/>
<circle cx="708.0" cy="60.5" r="2.30" fill="none" stroke="#8b0a0a" stroke-width="1.2"/>
<circle cx="728.1" cy="47.4" r="2.30" fill="none" stroke="#8b0a0a" stroke-width="1.2"/>
<circle cx="748.1" cy="41.5" r="2.30" fill="none" stroke="#8b0a0a" stroke-width="1.2"/>
<circle cx="768.2" cy="37.0" r="2.30" fill="none" stroke="#8b0a0a" stroke-width="1.2"/>
<circle cx="788.2" cy="32.5" r="2.30" fill="none" stroke="#8b0a0a" stroke-width="1.2"/>
<circle cx="808.3" cy="28.5" r="2.30" fill="none" stroke="#8b0a0a" stroke-width="1.2"/>
<circle cx="607.8" cy="251.0" r="2.30" fill="none" stroke="#8b0a0a" stroke-width="1.2"/>
<circle cx="617.8" cy="237.4" r="2.30" fill="none" stroke="#8b0a0a" stroke-width="1.2"/>
<circle cx="627.8" cy="227.7" r="2.30" fill="none" stroke="#8b0a0a" stroke-width="1.2"/>
<circle cx="637.9" cy="205.9" r="2.30" fill="none" stroke="#8b0a0a" stroke-width="1.2"/>
<circle cx="647.9" cy="166.5" r="2.30" fill="none" stroke="#8b0a0a" stroke-width="1.2"/>
<circle cx="667.9" cy="113.1" r="2.30" fill="none" stroke="#8b0a0a" stroke-width="1.2"/>
<circle cx="688.0" cy="85.2" r="2.30" fill="none" stroke="#8b0a0a" stroke-width="1.2"/>
<circle cx="708.0" cy="70.7" r="2.30" fill="none" stroke="#8b0a0a" stroke-width="1.2"/>
<circle cx="728.1" cy="56.5" r="2.30" fill="none" stroke="#8b0a0a" stroke-width="1.2"/>
<circle cx="748.1" cy="48.8" r="2.30" fill="none" stroke="#8b0a0a" stroke-width="1.2"/>
<circle cx="768.2" cy="43.0" r="2.30" fill="none" stroke="#8b0a0a" stroke-width="1.2"/>
<circle cx="788.2" cy="37.7" r="2.30" fill="none" stroke="#8b0a0a" stroke-width="1.2"/>
<circle cx="808.3" cy="31.9" r="2.30" fill="none" stroke="#8b0a0a" stroke-width="1.2"/>
<path d="M808.3 18.1L788.2 20.3L768.2 24.6L748.1 29.0L728.1 34.1L708.0 39.0L688.0 44.8L667.9 51.8L647.9 56.9L637.9 59.5L627.8 63.5L617.8 68.5L607.8 69.7L597.8 91.0L587.8 119.4L577.7 160.9L567.7 192.1L547.7 232.2L527.6 254.2L507.6 271.1L487.5 282.7L467.5 291.1L457.5 294.0" fill="none" stroke="#0a0af0" stroke-width="2.0" stroke-dasharray="10 4" stroke-linejoin="round" />
<path d="M457.5 307.0L467.5 305.2L487.5 300.9L507.6 295.8L527.6 290.0L547.7 283.4L567.7 275.4L587.8 264.5L607.8 251.5L617.8 238.0L627.8 213.9L637.9 178.0L647.9 141.0L667.9 98.3L688.0 75.8L708.0 58.0L728.1 46.0L748.1 38.0L768.2 31.0L788.2 25.0L808.3 20.0" fill="none" stroke="#0a0af0" stroke-width="2.0" stroke-dasharray="10 4" stroke-linejoin="round" />
<path d="M808.3 14.7L810.9 18.1L808.3 21.6L805.6 18.1Z" fill="none" stroke="#0a0af0" stroke-width="1.2"/>
<path d="M788.2 16.9L790.9 20.3L788.2 23.8L785.6 20.3Z" fill="none" stroke="#0a0af0" stroke-width="1.2"/>
<path d="M768.2 21.2L770.8 24.6L768.2 28.1L765.5 24.6Z" fill="none" stroke="#0a0af0" stroke-width="1.2"/>
<path d="M748.1 25.6L750.8 29.0L748.1 32.5L745.5 29.0Z" fill="none" stroke="#0a0af0" stroke-width="1.2"/>
<path d="M728.1 30.7L730.7 34.1L728.1 37.6L725.4 34.1Z" fill="none" stroke="#0a0af0" stroke-width="1.2"/>
<path d="M708.0 35.5L710.7 39.0L708.0 42.5L705.4 39.0Z" fill="none" stroke="#0a0af0" stroke-width="1.2"/>
<path d="M688.0 41.3L690.6 44.8L688.0 48.2L685.3 44.8Z" fill="none" stroke="#0a0af0" stroke-width="1.2"/>
<path d="M667.9 48.3L670.6 51.8L667.9 55.2L665.3 51.8Z" fill="none" stroke="#0a0af0" stroke-width="1.2"/>
<path d="M647.9 53.4L650.5 56.9L647.9 60.4L645.2 56.9Z" fill="none" stroke="#0a0af0" stroke-width="1.2"/>
<path d="M637.9 56.0L640.5 59.5L637.9 63.0L635.2 59.5Z" fill="none" stroke="#0a0af0" stroke-width="1.2"/>
<path d="M627.8 60.0L630.5 63.5L627.8 67.0L625.2 63.5Z" fill="none" stroke="#0a0af0" stroke-width="1.2"/>
<path d="M617.8 65.0L620.5 68.5L617.8 72.0L615.2 68.5Z" fill="none" stroke="#0a0af0" stroke-width="1.2"/>
<path d="M607.8 66.2L610.4 69.7L607.8 73.2L605.2 69.7Z" fill="none" stroke="#0a0af0" stroke-width="1.2"/>
<path d="M597.8 87.5L600.4 91.0L597.8 94.5L595.1 91.0Z" fill="none" stroke="#0a0af0" stroke-width="1.2"/>
<path d="M587.8 116.0L590.4 119.4L587.8 122.9L585.1 119.4Z" fill="none" stroke="#0a0af0" stroke-width="1.2"/>
<path d="M577.7 157.5L580.4 160.9L577.7 164.3L575.1 160.9Z" fill="none" stroke="#0a0af0" stroke-width="1.2"/>
<path d="M567.7 188.7L570.4 192.1L567.7 195.5L565.1 192.1Z" fill="none" stroke="#0a0af0" stroke-width="1.2"/>
<path d="M547.7 228.8L550.3 232.2L547.7 235.6L545.0 232.2Z" fill="none" stroke="#0a0af0" stroke-width="1.2"/>
<path d="M527.6 250.8L530.3 254.2L527.6 257.6L525.0 254.2Z" fill="none" stroke="#0a0af0" stroke-width="1.2"/>
<path d="M507.6 267.7L510.2 271.1L507.6 274.6L504.9 271.1Z" fill="none" stroke="#0a0af0" stroke-width="1.2"/>
<path d="M487.5 279.2L490.2 282.7L487.5 286.1L484.9 282.7Z" fill="none" stroke="#0a0af0" stroke-width="1.2"/>
<path d="M467.5 287.7L470.1 291.1L467.5 294.6L464.8 291.1Z" fill="none" stroke="#0a0af0" stroke-width="1.2"/>
<path d="M457.5 290.6L460.1 294.0L457.5 297.4L454.8 294.0Z" fill="none" stroke="#0a0af0" stroke-width="1.2"/>
<path d="M457.5 303.6L460.1 307.0L457.5 310.4L454.8 307.0Z" fill="none" stroke="#0a0af0" stroke-width="1.2"/>
<path d="M467.5 301.8L470.1 305.2L467.5 308.6L464.8 305.2Z" fill="none" stroke="#0a0af0" stroke-width="1.2"/>
<path d="M487.5 297.4L490.2 300.9L487.5 304.3L484.9 300.9Z" fill="none" stroke="#0a0af0" stroke-width="1.2"/>
<path d="M507.6 292.4L510.2 295.8L507.6 299.2L504.9 295.8Z" fill="none" stroke="#0a0af0" stroke-width="1.2"/>
<path d="M527.6 286.6L530.3 290.0L527.6 293.4L525.0 290.0Z" fill="none" stroke="#0a0af0" stroke-width="1.2"/>
<path d="M547.7 279.9L550.3 283.4L547.7 286.8L545.0 283.4Z" fill="none" stroke="#0a0af0" stroke-width="1.2"/>
<path d="M567.7 271.9L570.4 275.4L567.7 278.8L565.1 275.4Z" fill="none" stroke="#0a0af0" stroke-width="1.2"/>
<path d="M587.8 261.1L590.4 264.5L587.8 267.9L585.1 264.5Z" fill="none" stroke="#0a0af0" stroke-width="1.2"/>
<path d="M607.8 248.1L610.4 251.5L607.8 254.9L605.2 251.5Z" fill="none" stroke="#0a0af0" stroke-width="1.2"/>
<path d="M617.8 234.6L620.5 238.0L617.8 241.4L615.2 238.0Z" fill="none" stroke="#0a0af0" stroke-width="1.2"/>
<path d="M627.8 210.5L630.5 213.9L627.8 217.3L625.2 213.9Z" fill="none" stroke="#0a0af0" stroke-width="1.2"/>
<path d="M647.9 137.6L650.5 141.0L647.9 144.4L645.2 141.0Z" fill="none" stroke="#0a0af0" stroke-width="1.2"/>
<path d="M667.9 94.8L670.6 98.3L667.9 101.8L665.3 98.3Z" fill="none" stroke="#0a0af0" stroke-width="1.2"/>
<path d="M688.0 72.3L690.6 75.8L688.0 79.2L685.3 75.8Z" fill="none" stroke="#0a0af0" stroke-width="1.2"/>
<path d="M708.0 54.5L710.7 58.0L708.0 61.5L705.4 58.0Z" fill="none" stroke="#0a0af0" stroke-width="1.2"/>
<path d="M728.1 42.5L730.7 46.0L728.1 49.5L725.4 46.0Z" fill="none" stroke="#0a0af0" stroke-width="1.2"/>
<path d="M748.1 34.5L750.8 38.0L748.1 41.5L745.5 38.0Z" fill="none" stroke="#0a0af0" stroke-width="1.2"/>
<path d="M768.2 27.6L770.8 31.0L768.2 34.5L765.5 31.0Z" fill="none" stroke="#0a0af0" stroke-width="1.2"/>
<path d="M788.2 21.6L790.9 25.0L788.2 28.4L785.6 25.0Z" fill="none" stroke="#0a0af0" stroke-width="1.2"/>
<path d="M808.3 16.6L810.9 20.0L808.3 23.4L805.6 20.0Z" fill="none" stroke="#0a0af0" stroke-width="1.2"/>
<path d="M607.8 160.7L657.9 111.3L708.0 61.3L758.1 34.8L808.3 19.2L758.1 20.8L708.0 31.5L657.9 47.4L607.8 75.5L557.7 207.1L507.6 267.5L457.5 294.3" fill="none" stroke="#056a1e" stroke-width="2.0" stroke-dasharray="12.5 7.5" stroke-linejoin="round" stroke-dashoffset="12.5"/>
<path d="M457.5 307.0L507.6 295.0L557.7 279.0L607.8 255.8L708.0 61.3" fill="none" stroke="#056a1e" stroke-width="2.0" stroke-dasharray="12.5 7.5" stroke-linejoin="round" stroke-dashoffset="12.5"/>
<path d="M604.6 157.5L611.0 163.9M604.6 163.9L611.0 157.5" fill="none" stroke="#056a1e" stroke-width="1.56"/>
<path d="M654.7 108.1L661.1 114.5M654.7 114.5L661.1 108.1" fill="none" stroke="#056a1e" stroke-width="1.56"/>
<path d="M704.8 58.1L711.2 64.5M704.8 64.5L711.2 58.1" fill="none" stroke="#056a1e" stroke-width="1.56"/>
<path d="M754.9 31.6L761.4 38.0M754.9 38.0L761.4 31.6" fill="none" stroke="#056a1e" stroke-width="1.56"/>
<path d="M805.0 16.0L811.5 22.4M805.0 22.4L811.5 16.0" fill="none" stroke="#056a1e" stroke-width="1.56"/>
<path d="M754.9 17.6L761.4 24.0M754.9 24.0L761.4 17.6" fill="none" stroke="#056a1e" stroke-width="1.56"/>
<path d="M704.8 28.3L711.2 34.7M704.8 34.7L711.2 28.3" fill="none" stroke="#056a1e" stroke-width="1.56"/>
<path d="M654.7 44.2L661.1 50.6M654.7 50.6L661.1 44.2" fill="none" stroke="#056a1e" stroke-width="1.56"/>
<path d="M604.6 72.3L611.0 78.7M604.6 78.7L611.0 72.3" fill="none" stroke="#056a1e" stroke-width="1.56"/>
<path d="M554.5 203.9L560.9 210.3M554.5 210.3L560.9 203.9" fill="none" stroke="#056a1e" stroke-width="1.56"/>
<path d="M504.3 264.3L510.8 270.7M504.3 270.7L510.8 264.3" fill="none" stroke="#056a1e" stroke-width="1.56"/>
<path d="M454.2 291.1L460.7 297.5M454.2 297.5L460.7 291.1" fill="none" stroke="#056a1e" stroke-width="1.56"/>
<path d="M454.2 303.8L460.7 310.2M454.2 310.2L460.7 303.8" fill="none" stroke="#056a1e" stroke-width="1.56"/>
<path d="M504.3 291.8L510.8 298.2M504.3 298.2L510.8 291.8" fill="none" stroke="#056a1e" stroke-width="1.56"/>
<path d="M554.5 275.8L560.9 282.2M554.5 282.2L560.9 275.8" fill="none" stroke="#056a1e" stroke-width="1.56"/>
<path d="M604.6 252.6L611.0 259.0M604.6 259.0L611.0 252.6" fill="none" stroke="#056a1e" stroke-width="1.56"/>
<path d="M704.8 58.1L711.2 64.5M704.8 64.5L711.2 58.1" fill="none" stroke="#056a1e" stroke-width="1.56"/>
<path d="M808.3 10.1L788.2 12.3L768.2 15.9L748.1 19.5L728.1 23.9L708.0 29.0L688.0 35.8L667.9 41.3L647.9 49.6L637.9 54.7L627.8 60.5L617.8 64.9L607.8 66.4L597.8 86.8L587.8 116.0L577.7 152.2L567.7 183.8L547.7 227.4L527.6 252.0L507.6 270.0L487.5 282.0L467.5 291.0L457.5 295.0" fill="none" stroke="#000000" stroke-width="2.0" stroke-dasharray="4.8 3" stroke-linejoin="round" />
<path d="M457.5 309.0L467.5 308.0L487.5 304.0L507.6 299.4L527.6 294.3L547.7 288.0L567.7 279.8L587.8 269.8L607.8 256.0L617.8 241.0L627.8 220.0L637.9 186.0L647.9 148.3L667.9 103.3L688.0 78.0L708.0 58.0L728.1 44.0L748.1 34.0L768.2 27.0L788.2 21.0L808.3 15.9" fill="none" stroke="#000000" stroke-width="2.0" stroke-dasharray="4.8 3" stroke-linejoin="round" />
<path d="M804.5 10.1L812.1 10.1M808.3 6.3L808.3 13.9" fill="none" stroke="#000000" stroke-width="1.2"/>
<path d="M784.4 12.3L792.0 12.3M788.2 8.5L788.2 16.1" fill="none" stroke="#000000" stroke-width="1.2"/>
<path d="M764.4 15.9L772.0 15.9M768.2 12.1L768.2 19.7" fill="none" stroke="#000000" stroke-width="1.2"/>
<path d="M744.3 19.5L751.9 19.5M748.1 15.7L748.1 23.3" fill="none" stroke="#000000" stroke-width="1.2"/>
<path d="M724.3 23.9L731.9 23.9M728.1 20.1L728.1 27.7" fill="none" stroke="#000000" stroke-width="1.2"/>
<path d="M704.2 29.0L711.8 29.0M708.0 25.2L708.0 32.8" fill="none" stroke="#000000" stroke-width="1.2"/>
<path d="M684.2 35.8L691.8 35.8M688.0 32.0L688.0 39.6" fill="none" stroke="#000000" stroke-width="1.2"/>
<path d="M664.1 41.3L671.7 41.3M667.9 37.5L667.9 45.1" fill="none" stroke="#000000" stroke-width="1.2"/>
<path d="M644.1 49.6L651.7 49.6M647.9 45.8L647.9 53.4" fill="none" stroke="#000000" stroke-width="1.2"/>
<path d="M634.1 54.7L641.7 54.7M637.9 50.9L637.9 58.5" fill="none" stroke="#000000" stroke-width="1.2"/>
<path d="M624.1 60.5L631.6 60.5M627.8 56.7L627.8 64.3" fill="none" stroke="#000000" stroke-width="1.2"/>
<path d="M614.0 64.9L621.6 64.9M617.8 61.1L617.8 68.7" fill="none" stroke="#000000" stroke-width="1.2"/>
<path d="M604.0 66.4L611.6 66.4M607.8 62.6L607.8 70.2" fill="none" stroke="#000000" stroke-width="1.2"/>
<path d="M594.0 86.8L601.6 86.8M597.8 83.0L597.8 90.6" fill="none" stroke="#000000" stroke-width="1.2"/>
<path d="M584.0 116.0L591.5 116.0M587.8 112.2L587.8 119.8" fill="none" stroke="#000000" stroke-width="1.2"/>
<path d="M573.9 152.2L581.5 152.2M577.7 148.4L577.7 156.0" fill="none" stroke="#000000" stroke-width="1.2"/>
<path d="M563.9 183.8L571.5 183.8M567.7 180.0L567.7 187.6" fill="none" stroke="#000000" stroke-width="1.2"/>
<path d="M543.9 227.4L551.5 227.4M547.7 223.6L547.7 231.2" fill="none" stroke="#000000" stroke-width="1.2"/>
<path d="M523.8 252.0L531.4 252.0M527.6 248.2L527.6 255.8" fill="none" stroke="#000000" stroke-width="1.2"/>
<path d="M503.8 270.0L511.4 270.0M507.6 266.2L507.6 273.8" fill="none" stroke="#000000" stroke-width="1.2"/>
<path d="M483.7 282.0L491.3 282.0M487.5 278.2L487.5 285.8" fill="none" stroke="#000000" stroke-width="1.2"/>
<path d="M463.7 291.0L471.3 291.0M467.5 287.2L467.5 294.8" fill="none" stroke="#000000" stroke-width="1.2"/>
<path d="M453.7 295.0L461.2 295.0M457.5 291.2L457.5 298.8" fill="none" stroke="#000000" stroke-width="1.2"/>
<path d="M453.7 309.0L461.2 309.0M457.5 305.2L457.5 312.8" fill="none" stroke="#000000" stroke-width="1.2"/>
<path d="M463.7 308.0L471.3 308.0M467.5 304.2L467.5 311.8" fill="none" stroke="#000000" stroke-width="1.2"/>
<path d="M483.7 304.0L491.3 304.0M487.5 300.2L487.5 307.8" fill="none" stroke="#000000" stroke-width="1.2"/>
<path d="M503.8 299.4L511.4 299.4M507.6 295.6L507.6 303.2" fill="none" stroke="#000000" stroke-width="1.2"/>
<path d="M523.8 294.3L531.4 294.3M527.6 290.5L527.6 298.1" fill="none" stroke="#000000" stroke-width="1.2"/>
<path d="M543.9 288.0L551.5 288.0M547.7 284.2L547.7 291.8" fill="none" stroke="#000000" stroke-width="1.2"/>
<path d="M563.9 279.8L571.5 279.8M567.7 276.0L567.7 283.6" fill="none" stroke="#000000" stroke-width="1.2"/>
<path d="M584.0 269.8L591.5 269.8M587.8 266.0L587.8 273.6" fill="none" stroke="#000000" stroke-width="1.2"/>
<path d="M604.0 256.0L611.6 256.0M607.8 252.2L607.8 259.8" fill="none" stroke="#000000" stroke-width="1.2"/>
<path d="M614.0 241.0L621.6 241.0M617.8 237.2L617.8 244.8" fill="none" stroke="#000000" stroke-width="1.2"/>
<path d="M624.1 220.0L631.6 220.0M627.8 216.2L627.8 223.8" fill="none" stroke="#000000" stroke-width="1.2"/>
<path d="M644.1 148.3L651.7 148.3M647.9 144.5L647.9 152.1" fill="none" stroke="#000000" stroke-width="1.2"/>
<path d="M664.1 103.3L671.7 103.3M667.9 99.5L667.9 107.1" fill="none" stroke="#000000" stroke-width="1.2"/>
<path d="M684.2 78.0L691.8 78.0M688.0 74.2L688.0 81.8" fill="none" stroke="#000000" stroke-width="1.2"/>
<path d="M704.2 58.0L711.8 58.0M708.0 54.2L708.0 61.8" fill="none" stroke="#000000" stroke-width="1.2"/>
<path d="M724.3 44.0L731.9 44.0M728.1 40.2L728.1 47.8" fill="none" stroke="#000000" stroke-width="1.2"/>
<path d="M744.3 34.0L751.9 34.0M748.1 30.2L748.1 37.8" fill="none" stroke="#000000" stroke-width="1.2"/>
<path d="M764.4 27.0L772.0 27.0M768.2 23.2L768.2 30.8" fill="none" stroke="#000000" stroke-width="1.2"/>
<path d="M784.4 21.0L792.0 21.0M788.2 17.2L788.2 24.8" fill="none" stroke="#000000" stroke-width="1.2"/>
<path d="M804.5 15.9L812.1 15.9M808.3 12.1L808.3 19.7" fill="none" stroke="#000000" stroke-width="1.2"/>
<path d="M607.8 116.4L617.8 111.3L627.8 105.8L637.9 98.5L647.9 92.2L667.9 78.1L688.0 65.6L708.0 55.4L728.1 45.3L748.1 38.0L768.2 31.9L788.2 25.3L808.3 19.0" fill="none" stroke="#e8145a" stroke-width="2.0" stroke-dasharray="2.2 5.5" stroke-linejoin="round" />
<path d="M808.3 11.0L788.2 14.4L768.2 18.8L748.1 23.2L728.1 27.5L708.0 33.0L688.0 40.2L667.9 46.7L647.9 55.0L637.9 60.2L627.8 65.6L617.8 72.2L607.8 80.0L597.8 91.3L587.8 109.5L577.7 136.9L567.7 167.0L547.7 211.4L527.6 240.4L507.6 260.3L487.5 274.0L467.5 285.6L457.5 290.0" fill="none" stroke="#e8145a" stroke-width="2.0" stroke-dasharray="2.2 5.5" stroke-linejoin="round" />
<path d="M457.5 307.0L467.5 305.2L487.5 300.9L507.6 295.8L527.6 290.0L547.7 283.1L567.7 275.4L587.8 265.0L607.8 251.3L617.8 237.8L627.8 226.5L637.9 200.0L647.9 166.5L667.9 121.5L688.0 91.0L708.0 70.0L728.1 56.2L748.1 44.5L768.2 31.9L788.2 25.3L808.3 19.0" fill="none" stroke="#e8145a" stroke-width="2.0" stroke-dasharray="2.2 5.5" stroke-linejoin="round" />
<path d="M607.8 113.1L611.1 119.9L604.5 119.9Z" fill="none" stroke="#e8145a" stroke-width="1.2"/>
<path d="M617.8 108.0L621.2 114.8L614.5 114.8Z" fill="none" stroke="#e8145a" stroke-width="1.2"/>
<path d="M627.8 102.5L631.2 109.2L624.5 109.2Z" fill="none" stroke="#e8145a" stroke-width="1.2"/>
<path d="M637.9 95.2L641.2 102.0L634.5 102.0Z" fill="none" stroke="#e8145a" stroke-width="1.2"/>
<path d="M647.9 88.9L651.2 95.7L644.6 95.7Z" fill="none" stroke="#e8145a" stroke-width="1.2"/>
<path d="M667.9 74.8L671.3 81.5L664.6 81.5Z" fill="none" stroke="#e8145a" stroke-width="1.2"/>
<path d="M688.0 62.3L691.3 69.0L684.6 69.0Z" fill="none" stroke="#e8145a" stroke-width="1.2"/>
<path d="M708.0 52.1L711.4 58.9L704.7 58.9Z" fill="none" stroke="#e8145a" stroke-width="1.2"/>
<path d="M728.1 42.0L731.4 48.8L724.7 48.8Z" fill="none" stroke="#e8145a" stroke-width="1.2"/>
<path d="M748.1 34.7L751.5 41.5L744.8 41.5Z" fill="none" stroke="#e8145a" stroke-width="1.2"/>
<path d="M768.2 28.6L771.5 35.4L764.8 35.4Z" fill="none" stroke="#e8145a" stroke-width="1.2"/>
<path d="M788.2 22.0L791.5 28.8L784.9 28.8Z" fill="none" stroke="#e8145a" stroke-width="1.2"/>
<path d="M808.3 15.7L811.6 22.4L804.9 22.4Z" fill="none" stroke="#e8145a" stroke-width="1.2"/>
<path d="M808.3 7.7L811.6 14.4L804.9 14.4Z" fill="none" stroke="#e8145a" stroke-width="1.2"/>
<path d="M788.2 11.1L791.5 17.9L784.9 17.9Z" fill="none" stroke="#e8145a" stroke-width="1.2"/>
<path d="M768.2 15.5L771.5 22.2L764.8 22.2Z" fill="none" stroke="#e8145a" stroke-width="1.2"/>
<path d="M748.1 19.9L751.5 26.6L744.8 26.6Z" fill="none" stroke="#e8145a" stroke-width="1.2"/>
<path d="M728.1 24.2L731.4 30.9L724.7 30.9Z" fill="none" stroke="#e8145a" stroke-width="1.2"/>
<path d="M708.0 29.7L711.4 36.5L704.7 36.5Z" fill="none" stroke="#e8145a" stroke-width="1.2"/>
<path d="M688.0 36.9L691.3 43.7L684.6 43.7Z" fill="none" stroke="#e8145a" stroke-width="1.2"/>
<path d="M667.9 43.4L671.3 50.2L664.6 50.2Z" fill="none" stroke="#e8145a" stroke-width="1.2"/>
<path d="M647.9 51.7L651.2 58.5L644.6 58.5Z" fill="none" stroke="#e8145a" stroke-width="1.2"/>
<path d="M637.9 56.9L641.2 63.7L634.5 63.7Z" fill="none" stroke="#e8145a" stroke-width="1.2"/>
<path d="M627.8 62.3L631.2 69.0L624.5 69.0Z" fill="none" stroke="#e8145a" stroke-width="1.2"/>
<path d="M617.8 68.9L621.2 75.7L614.5 75.7Z" fill="none" stroke="#e8145a" stroke-width="1.2"/>
<path d="M607.8 76.7L611.1 83.5L604.5 83.5Z" fill="none" stroke="#e8145a" stroke-width="1.2"/>
<path d="M597.8 88.0L601.1 94.8L594.4 94.8Z" fill="none" stroke="#e8145a" stroke-width="1.2"/>
<path d="M587.8 106.2L591.1 113.0L584.4 113.0Z" fill="none" stroke="#e8145a" stroke-width="1.2"/>
<path d="M577.7 133.6L581.1 140.3L574.4 140.3Z" fill="none" stroke="#e8145a" stroke-width="1.2"/>
<path d="M567.7 163.7L571.0 170.4L564.4 170.4Z" fill="none" stroke="#e8145a" stroke-width="1.2"/>
<path d="M547.7 208.1L551.0 214.8L544.3 214.8Z" fill="none" stroke="#e8145a" stroke-width="1.2"/>
<path d="M527.6 237.1L531.0 243.8L524.3 243.8Z" fill="none" stroke="#e8145a" stroke-width="1.2"/>
<path d="M507.6 257.0L510.9 263.8L504.2 263.8Z" fill="none" stroke="#e8145a" stroke-width="1.2"/>
<path d="M487.5 270.7L490.9 277.4L484.2 277.4Z" fill="none" stroke="#e8145a" stroke-width="1.2"/>
<path d="M467.5 282.3L470.8 289.1L464.1 289.1Z" fill="none" stroke="#e8145a" stroke-width="1.2"/>
<path d="M457.5 286.7L460.8 293.4L454.1 293.4Z" fill="none" stroke="#e8145a" stroke-width="1.2"/>
<path d="M457.5 303.7L460.8 310.4L454.1 310.4Z" fill="none" stroke="#e8145a" stroke-width="1.2"/>
<path d="M467.5 301.9L470.8 308.6L464.1 308.6Z" fill="none" stroke="#e8145a" stroke-width="1.2"/>
<path d="M487.5 297.6L490.9 304.3L484.2 304.3Z" fill="none" stroke="#e8145a" stroke-width="1.2"/>
<path d="M507.6 292.5L510.9 299.2L504.2 299.2Z" fill="none" stroke="#e8145a" stroke-width="1.2"/>
<path d="M527.6 286.7L531.0 293.4L524.3 293.4Z" fill="none" stroke="#e8145a" stroke-width="1.2"/>
<path d="M547.7 279.8L551.0 286.6L544.3 286.6Z" fill="none" stroke="#e8145a" stroke-width="1.2"/>
<path d="M567.7 272.1L571.0 278.8L564.4 278.8Z" fill="none" stroke="#e8145a" stroke-width="1.2"/>
<path d="M587.8 261.7L591.1 268.4L584.4 268.4Z" fill="none" stroke="#e8145a" stroke-width="1.2"/>
<path d="M607.8 248.0L611.1 254.8L604.5 254.8Z" fill="none" stroke="#e8145a" stroke-width="1.2"/>
<path d="M617.8 234.5L621.2 241.2L614.5 241.2Z" fill="none" stroke="#e8145a" stroke-width="1.2"/>
<path d="M627.8 223.2L631.2 229.9L624.5 229.9Z" fill="none" stroke="#e8145a" stroke-width="1.2"/>
<path d="M647.9 163.2L651.2 169.9L644.6 169.9Z" fill="none" stroke="#e8145a" stroke-width="1.2"/>
<path d="M667.9 118.2L671.3 125.0L664.6 125.0Z" fill="none" stroke="#e8145a" stroke-width="1.2"/>
<path d="M688.0 87.7L691.3 94.5L684.6 94.5Z" fill="none" stroke="#e8145a" stroke-width="1.2"/>
<path d="M708.0 66.7L711.4 73.5L704.7 73.5Z" fill="none" stroke="#e8145a" stroke-width="1.2"/>
<path d="M728.1 52.9L731.4 59.7L724.7 59.7Z" fill="none" stroke="#e8145a" stroke-width="1.2"/>
<path d="M748.1 41.2L751.5 48.0L744.8 48.0Z" fill="none" stroke="#e8145a" stroke-width="1.2"/>
<path d="M768.2 28.6L771.5 35.4L764.8 35.4Z" fill="none" stroke="#e8145a" stroke-width="1.2"/>
<path d="M788.2 22.0L791.5 28.8L784.9 28.8Z" fill="none" stroke="#e8145a" stroke-width="1.2"/>
<path d="M808.3 15.7L811.6 22.4L804.9 22.4Z" fill="none" stroke="#e8145a" stroke-width="1.2"/>
</g>
<rect x="458.2" y="7.15" width="350.3" height="300.6" fill="none" stroke="#161616" stroke-width="1.2"/>
<path d="M507.6 7.15L507.6 13.15M507.6 307.7L507.6 301.7" stroke="#111" stroke-width="1.1"/>
<path d="M557.7 7.15L557.7 13.15M557.7 307.7L557.7 301.7" stroke="#111" stroke-width="1.1"/>
<path d="M607.8 7.15L607.8 13.15M607.8 307.7L607.8 301.7" stroke="#111" stroke-width="1.1"/>
<path d="M657.9 7.15L657.9 13.15M657.9 307.7L657.9 301.7" stroke="#111" stroke-width="1.1"/>
<path d="M708.0 7.15L708.0 13.15M708.0 307.7L708.0 301.7" stroke="#111" stroke-width="1.1"/>
<path d="M758.1 7.15L758.1 13.15M758.1 307.7L758.1 301.7" stroke="#111" stroke-width="1.1"/>
<path d="M458.2 31.6L464.2 31.6M808.5 31.6L802.5 31.6" stroke="#111" stroke-width="1.1"/>
<path d="M458.2 98.1L464.2 98.1M808.5 98.1L802.5 98.1" stroke="#111" stroke-width="1.1"/>
<path d="M458.2 164.6L464.2 164.6M808.5 164.6L802.5 164.6" stroke="#111" stroke-width="1.1"/>
<path d="M458.2 231.1L464.2 231.1M808.5 231.1L802.5 231.1" stroke="#111" stroke-width="1.1"/>
<path d="M458.2 297.6L464.2 297.6M808.5 297.6L802.5 297.6" stroke="#111" stroke-width="1.1"/>
<text transform="translate(504.0 328.5) scale(1 1.045)" font-size="22.6" text-anchor="middle">-100</text>
<text transform="translate(604.2 328.5) scale(1 1.045)" font-size="22.6" text-anchor="middle">0</text>
<text transform="translate(704.4 328.5) scale(1 1.045)" font-size="22.6" text-anchor="middle">100</text>
<text transform="translate(804.7 328.5) scale(1 1.045)" font-size="22.6" text-anchor="middle">200</text>
<text transform="translate(452.8 39.9) scale(1 1.045)" font-size="22.0" text-anchor="end">8</text>
<text transform="translate(452.8 106.4) scale(1 1.045)" font-size="22.0" text-anchor="end">4</text>
<text transform="translate(452.8 172.9) scale(1 1.045)" font-size="22.0" text-anchor="end">0</text>
<text transform="translate(452.8 239.4) scale(1 1.045)" font-size="22.0" text-anchor="end">-4</text>
<text transform="translate(452.8 305.9) scale(1 1.045)" font-size="22.0" text-anchor="end">-8</text>
<text x="632.8" y="355" font-size="24.2" text-anchor="middle">H (Oe)</text>
<text x="503.8" y="38.6" font-size="26.4">(b)</text>
<path d="M694.1 191.2L727.2 191.2" stroke="#8b0a0a" stroke-width="1.4" />
<circle cx="710.8" cy="191.2" r="2.20" fill="none" stroke="#8b0a0a" stroke-width="0.9"/>
<text transform="translate(731.2 198.5) scale(1 1.035)" font-size="20.6" style="fill:#8b0a0a">300 K</text>
<path d="M701.8 213.0L725.9 213.0" stroke="#0a0af0" stroke-width="1.4" />
<path d="M710.8 209.7L713.3 213.0L710.8 216.3L708.3 213.0Z" fill="none" stroke="#0a0af0" stroke-width="0.9"/>
<text transform="translate(731.2 220.3) scale(1 1.035)" font-size="20.6" style="fill:#0a0af0">260 K</text>
<path d="M701.8 235.0L725.9 235.0" stroke="#056a1e" stroke-width="1.4" stroke-dasharray='12.5 2.9'/>
<path d="M707.7 231.9L713.9 238.1M707.7 238.1L713.9 231.9" fill="none" stroke="#056a1e" stroke-width="1.17"/>
<text transform="translate(731.2 242.3) scale(1 1.035)" font-size="20.6" style="fill:#056a1e">250 K</text>
<path d="M694.1 256.2L727.2 256.2" stroke="#000000" stroke-width="1.4" stroke-dasharray='4.8 2.0'/>
<path d="M707.2 256.2L714.4 256.2M710.8 252.6L710.8 259.8" fill="none" stroke="#000000" stroke-width="0.9"/>
<text transform="translate(731.2 263.5) scale(1 1.035)" font-size="20.6" style="fill:#000000">240 K</text>
<path d="M694.1 277.8L727.2 277.8" stroke="#e8145a" stroke-width="1.4" stroke-dasharray='2 5.7'/>
<path d="M710.8 274.6L714.0 281.1L707.6 281.1Z" fill="none" stroke="#e8145a" stroke-width="0.9"/>
<text transform="translate(731.2 285.1) scale(1 1.035)" font-size="20.6" style="fill:#e8145a">220 K</text>
</g>
</g>
</svg>
</body></html>
